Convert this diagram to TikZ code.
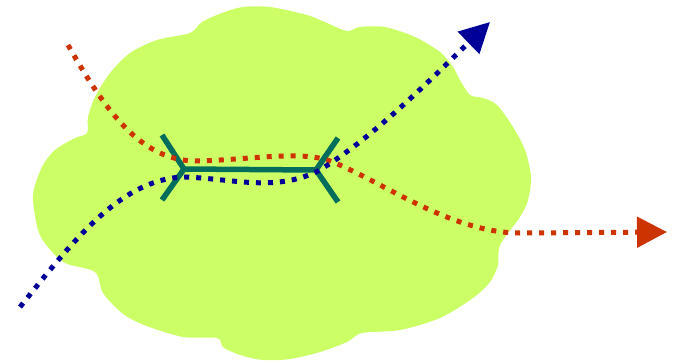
\documentclass[tikz,border=0pt]{standalone}
\usepackage{xcolor}
\usepackage{tikz}
\usetikzlibrary{arrows.meta}
\definecolor{cloudgreen}{RGB}{204,255,102}
\definecolor{bondteal}{RGB}{0,110,90}
\definecolor{trackred}{RGB}{204,51,0}
\definecolor{trackblue}{RGB}{0,0,153}
\tikzset{
  cloud/.style={fill=cloudgreen, draw=none},
  bond/.style={draw=bondteal, line width=5.5pt, line join=miter},
  track/.style={line width=5pt, dash pattern=on 5pt off 7pt,
    -{Triangle[length=30pt, width=30pt]}},
  redtrack/.style={track, color=trackred},
  bluetrack/.style={track, color=trackblue}
}

\begin{document}
\begin{tikzpicture}[x=1pt, y=-1pt]
  \useasboundingbox (0,0) rectangle (677,362);

  % Cloud
  \fill[cloud] plot[smooth cycle, tension=0.5] coordinates {
    (33,195) (38,230) (48,247) (65,263) (95,272) (103,293) (122,313)
    (144,325) (183,337) (217,338) (223,347) (240,355) (263,360) (290,359)
    (320,352) (347,342) (362,333) (400,330) (440,318) (473,298) (490,282)
    (498,265) (500,245) (520,217) (528,200) (531,177) (525,150) (513,127)
    (497,105) (483,98) (470,95) (460,80) (453,67) (440,52) (415,37)
    (385,27) (360,27) (347,31) (327,23) (307,15) (270,7) (243,7) (222,13)
    (202,22) (190,33) (157,40) (130,53) (110,73) (95,97) (88,117) (87,133)
    (75,138) (55,150) (42,167)};

  % Molecule
  \coordinate (lv) at (184,169);
  \coordinate (rv) at (316,170);
  \coordinate (lu) at (162,135);
  \coordinate (ld) at (162,200);
  \coordinate (ru) at (338,138);
  \coordinate (rd) at (338,202);
  \draw[bond] (lu) -- (lv) -- (ld);
  \draw[bond] (ru) -- (rv) -- (rd);
  \draw[bond] (lv) -- (rv);

  % Tracks
  \coordinate (redin) at (68,45);
  \coordinate (redout) at (667,232);
  \coordinate (bluein) at (20,307);
  \coordinate (blueout) at (490,22);
  \draw[redtrack] (redin) .. controls (105,110) and (140,160) .. (195,161)
    .. controls (250,160) and (300,150) .. (330,161)
    .. controls (380,180) and (450,233) .. (520,233) -- (redout);
  \draw[bluetrack] (bluein) .. controls (70,245) and (120,178) .. (185,177)
    .. controls (235,179) and (275,192) .. (318,171)
    .. controls (370,140) and (425,85) .. (blueout);
\end{tikzpicture}
\end{document}
